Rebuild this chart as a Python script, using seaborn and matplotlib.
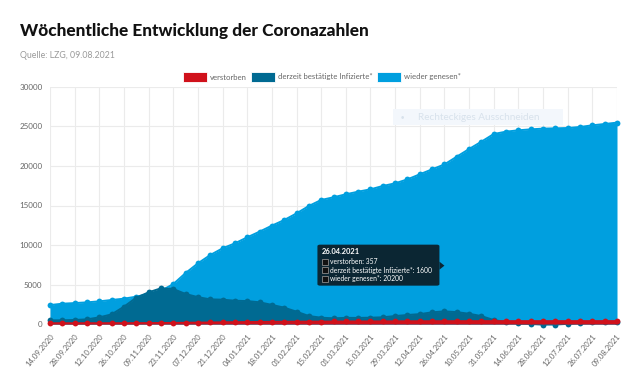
import matplotlib
matplotlib.use("Agg")
import matplotlib.pyplot as plt
import seaborn as sns
import pandas as pd
from matplotlib.patches import Rectangle, FancyBboxPatch, Polygon

# ---------------- data ----------------
dates = ["14.09.2020", "21.09.2020", "28.09.2020", "05.10.2020", "12.10.2020", "19.10.2020",
         "26.10.2020", "02.11.2020", "09.11.2020", "16.11.2020", "23.11.2020", "30.11.2020",
         "07.12.2020", "14.12.2020", "21.12.2020", "28.12.2020", "04.01.2021", "11.01.2021",
         "18.01.2021", "25.01.2021", "01.02.2021", "08.02.2021", "15.02.2021", "22.02.2021",
         "01.03.2021", "08.03.2021", "15.03.2021", "22.03.2021", "29.03.2021", "05.04.2021",
         "12.04.2021", "19.04.2021", "26.04.2021", "03.05.2021", "10.05.2021", "24.05.2021",
         "31.05.2021", "07.06.2021", "14.06.2021", "21.06.2021", "28.06.2021", "05.07.2021",
         "12.07.2021", "19.07.2021", "26.07.2021", "02.08.2021", "09.08.2021"]

verstorben = [95, 96, 97, 98, 99, 101, 104, 108, 115, 126, 140, 157, 176, 196, 216, 233,
              250, 264, 278, 289, 298, 306, 312, 318, 323, 327, 331, 336, 340, 346, 351, 354,
              357, 360, 362, 364, 365, 366, 366, 367, 367, 368, 368, 369, 369, 370, 371]

infizierte = [460, 470, 510, 590, 840, 1220, 2190, 3330, 4010, 4520, 4430, 3800, 3400, 3120,
              3080, 2950, 2900, 2750, 2420, 2070, 1560, 1010, 800, 720, 780, 770, 800, 850,
              1010, 1140, 1250, 1480, 1600, 1500, 1300, 1000, 500, 250, 80, 0, -80, -70,
              20, 150, 200, 220, 250]

genesen = [2400, 2570, 2650, 2740, 2870, 3040, 3210, 3460, 3800, 4200, 5050, 6450, 7680,
           8730, 9580, 10210, 10970, 11690, 12450, 13160, 14000, 14940, 15700, 16040, 16420,
           16750, 17050, 17470, 17810, 18310, 18950, 19580, 20200, 21180, 22150, 23080, 24050,
           24350, 24520, 24640, 24730, 24770, 24810, 24940, 25150, 25320, 25490]

series = ["verstorben", "derzeit bestätigte Infizierte*", "wieder genesen*"]
colors = ["#d0111b", "#006a92", "#009fdf"]
tooltip_date = "26.04.2021"
y_ticks = [0, 5000, 10000, 15000, 20000, 25000, 30000]

# ---------------- style ----------------
sns.set_theme(style="white")
plt.rcParams["font.family"] = ["Lato", "DejaVu Sans"]

W, H = 640, 375
fig = plt.figure(figsize=(W / 100, H / 100), dpi=100)
ax = fig.add_axes([50 / W, 1 - 324 / H, 567 / W, 237 / H])

df = pd.DataFrame({"idx": range(len(dates)), "datum": dates,
                   series[0]: verstorben, series[1]: infizierte, series[2]: genesen})
long = df.melt(id_vars=["idx", "datum"], var_name="serie", value_name="wert")

# draw from back (genesen) to front (verstorben), each area under its own line
for k, (name, col) in enumerate(reversed(list(zip(series, colors)))):
    z = 3 + 2 * k
    sub = long[long["serie"] == name]
    ax.fill_between(sub["idx"], sub["wert"], 0, color=col, lw=0, zorder=z)
    sns.lineplot(data=sub, x="idx", y="wert", color=col, lw=1.4, marker="o",
                 markersize=4.2, markeredgewidth=0, ax=ax, zorder=z + 1,
                 clip_on=False, legend=False)

ax.set_xlim(0, len(dates) - 1)
ax.set_ylim(0, 30000)
ax.set_xticks(range(0, len(dates), 2))
ax.set_xticklabels(dates[::2], rotation=50, ha="right", rotation_mode="anchor",
                   fontsize=5.6, color="#666666")
ax.set_yticks(y_ticks)
ax.set_yticklabels([str(v) for v in y_ticks], fontsize=5.8, color="#666666")
ax.tick_params(axis="both", length=4, width=0.8, color="#e6e6e6", pad=1.5)
ax.tick_params(axis="x", pad=2)
ax.grid(True, color="#ebebeb", lw=0.8, zorder=0)
ax.set_axisbelow(True)
for s in ax.spines.values():
    s.set_visible(False)
ax.set_xlabel("")
ax.set_ylabel("")

# ---------------- titles ----------------
fig.text(20 / W, 1 - 31 / H, "Wöchentliche Entwicklung der Coronazahlen",
         fontsize=12.4, fontweight="black", color="#111111", va="center", ha="left")
fig.text(20 / W, 1 - 55 / H, "Quelle: LZG, 09.08.2021",
         fontsize=6.3, color="#9a9a9a", va="center", ha="left")

# ---------------- legend ----------------
fig.canvas.draw()
renderer = fig.canvas.get_renderer()
x = 183
ly = 77
for name, col in zip(series, colors):
    fig.patches.append(Rectangle((x / W, 1 - (ly + 5) / H), 24 / W, 10 / H,
                                 transform=fig.transFigure, facecolor=col,
                                 edgecolor="white", lw=0.6))
    t = fig.text((x + 27) / W, 1 - ly / H, name, fontsize=5.6, color="#666666",
                 va="center", ha="left")
    w = t.get_window_extent(renderer).width
    x = x + 27 + w + 4

# ---------------- screenshot watermark ----------------
fig.patches.append(Rectangle((393 / W, 1 - 125 / H), 170 / W, 16 / H,
                             transform=fig.transFigure, facecolor="#f3f7fc",
                             edgecolor="none", zorder=1))
fig.text(402 / W, 1 - 117 / H, "●", fontsize=4, color="#d8e2ec", va="center", ha="center")
fig.text(418 / W, 1 - 117 / H, "Rechteckiges Ausschneiden", fontsize=7.2,
         color="#d8e2ec", va="center", ha="left")

# ---------------- tooltip ----------------
ti = dates.index(tooltip_date)
avg = (verstorben[ti] + infizierte[ti] + genesen[ti]) / 3
px, py = ax.transData.transform((ti, avg))
py = H - py  # top-based pixel coordinates
bw, bh = 122, 41
bx0, by0 = px - 5 - bw, py - 21
tip_col = "#0b2633"
fig.patches.append(FancyBboxPatch((bx0 / W, 1 - (by0 + bh) / H), bw / W, bh / H,
                                  boxstyle="round,pad=0,rounding_size=0.004",
                                  transform=fig.transFigure, facecolor=tip_col,
                                  edgecolor="none", zorder=20))
fig.patches.append(Polygon([((px - 5) / W, 1 - (py - 4) / H), (px / W, 1 - py / H),
                            ((px - 5) / W, 1 - (py + 4) / H)],
                           transform=fig.transFigure, facecolor=tip_col,
                           edgecolor="none", zorder=20))
fig.text((bx0 + 4) / W, 1 - (by0 + 7) / H, tooltip_date, fontsize=5.4,
         fontweight="bold", color="white", va="center", ha="left", zorder=21)
vals = [verstorben[ti], infizierte[ti], genesen[ti]]
for j, (name, v) in enumerate(zip(series, vals)):
    yy = by0 + 17 + j * 8.5
    fig.patches.append(Rectangle(((bx0 + 5) / W, 1 - (yy + 3) / H), 6 / W, 6 / H,
                                 transform=fig.transFigure, facecolor="#111111",
                                 edgecolor="#8a8a8a", lw=0.6, zorder=21))
    fig.text((bx0 + 13) / W, 1 - yy / H, f"{name}: {v}", fontsize=4.9,
             color="white", va="center", ha="left", zorder=21)

fig.savefig("out.png", dpi=100)
